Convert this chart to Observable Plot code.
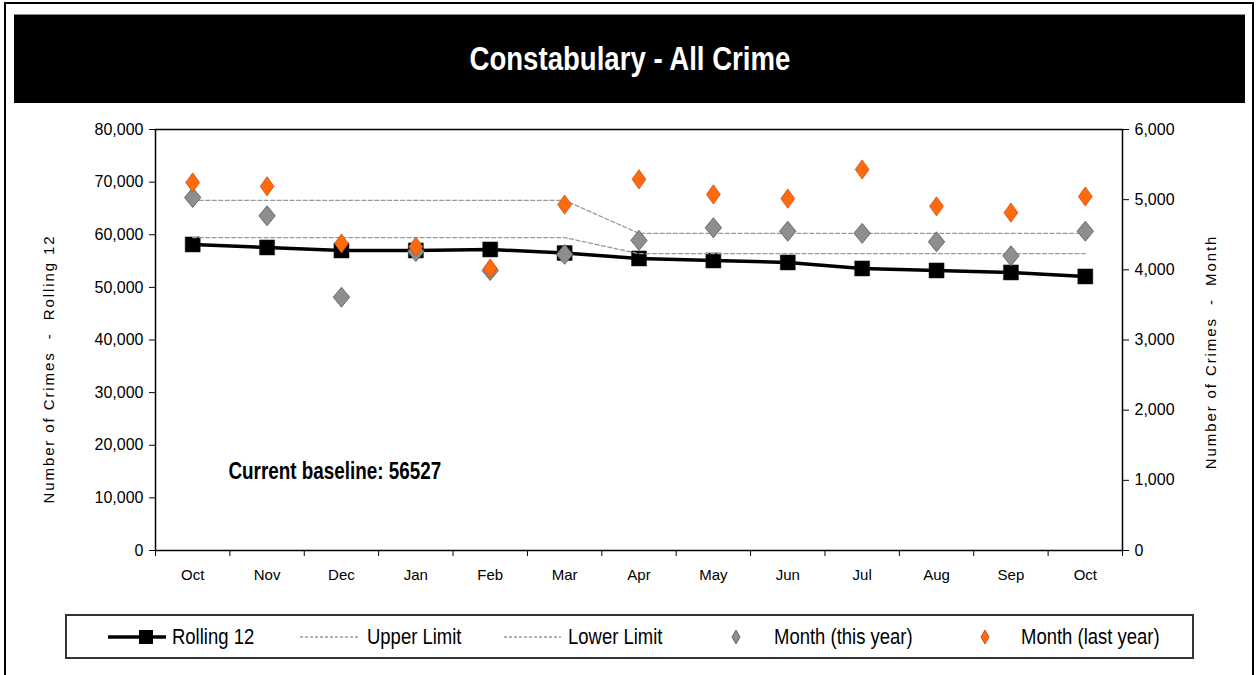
<!DOCTYPE html>
<html>
<head>
<meta charset="utf-8">
<script src="https://cdn.jsdelivr.net/npm/d3@7"></script>
<script src="https://cdn.jsdelivr.net/npm/@observablehq/plot@0.6"></script>
<style>
  html, body { margin: 0; padding: 0; background: #fff; }
  #page { position: relative; width: 1258px; height: 675px; overflow: hidden; background: #fff; font-family: "Liberation Sans", Arial, sans-serif; }
  #border { position: absolute; left: 4px; top: 2px; width: 1250px; height: 700px; border: 2px solid #000; box-sizing: border-box; }
  #title { position: absolute; left: 14px; top: 14px; width: 1231px; height: 89px; background: #000; color: #fff;
           display: flex; align-items: center; justify-content: center; border-top: 1px solid #888; box-sizing: border-box; }
  #title span { display: inline-block; font-family: "Liberation Sans", Arial, sans-serif; font-weight: bold; font-size: 33px; transform: scaleX(0.836); white-space: nowrap; }
  #chart { position: absolute; left: 0; top: 110px; }
  #legend { position: absolute; left: 65px; top: 614px; width: 1129px; height: 45px; border: 2px solid #333; box-sizing: border-box; }
  .li { position: absolute; top: 0; height: 41px; display: flex; align-items: center; font-family: "Liberation Sans", Arial, sans-serif; font-size: 22px; color: #000; white-space: nowrap; }
  .li svg { display: block; }
  .li span { display: inline-block; transform: scaleX(0.84); transform-origin: 0 50%; }
</style>
</head>
<body>
<div id="page">
  <div id="border"></div>
  <div id="title"><span>Constabulary - All Crime</span></div>
  <div id="chart"></div>
  <div id="legend"></div>
</div>
<script>
const months = ["Oct","Nov","Dec","Jan","Feb","Mar","Apr","May","Jun","Jul","Aug","Sep","Oct"];
const rolling12 = [58150, 57580, 57010, 57010, 57200, 56527, 55490, 55110, 54730, 53590, 53210, 52830, 52070];
const upperLimit = [4990, 4990, 4990, 4990, 4990, 4990, 4520, 4520, 4520, 4520, 4520, 4520, 4520];
const lowerLimit = [4460, 4460, 4460, 4460, 4460, 4460, 4230, 4230, 4230, 4230, 4230, 4230, 4230];
const monthThisYear = [5030, 4770, 3610, 4260, 3990, 4220, 4420, 4600, 4550, 4520, 4400, 4200, 4550];
const monthLastYear = [5245, 5190, 4375, 4330, 4020, 4930, 5290, 5075, 5015, 5430, 4905, 4815, 5045];
const leftTicks = [0, 10000, 20000, 30000, 40000, 50000, 60000, 70000, 80000];
const rightTicks = [0, 1000, 2000, 3000, 4000, 5000, 6000];
const baseline = 56527;
const leftLabel = "Number of Crimes \u00a0-\u00a0 Rolling 12";
const rightLabel = "Number of Crimes \u00a0-\u00a0 Month";

const leftMax = 80000, rightMax = 6000;
const ratio = leftMax / rightMax;
const fmt = d3.format(",");

const data = months.map((m, i) => ({
  i, month: m,
  rolling: rolling12[i],
  upper: upperLimit[i] * ratio,
  lower: lowerLimit[i] * ratio,
  thisYear: monthThisYear[i] * ratio,
  lastYear: monthLastYear[i] * ratio
}));

// diamond with a width/height ratio like the original markers
const diamond = (aspect) => ({
  draw(context, size) {
    const h = Math.sqrt(size / (2 * aspect));
    const w = h * aspect;
    context.moveTo(0, -h);
    context.lineTo(w, 0);
    context.lineTo(0, h);
    context.lineTo(-w, 0);
    context.closePath();
  }
});
const grayDiamond = diamond(0.82);
const orangeDiamond = diamond(0.72);

const chart = Plot.plot({
  width: 1258,
  height: 490,
  marginTop: 19,
  marginBottom: 50,
  marginLeft: 155,
  marginRight: 136,
  style: { fontFamily: '"Liberation Sans", Arial, sans-serif', fontSize: "15px", color: "#000", background: "transparent" },
  x: { type: "linear", domain: [-0.5, months.length - 0.5] },
  y: { domain: [0, leftMax] },
  marks: [
    Plot.frame({ stroke: "#000", strokeWidth: 1.5 }),
    Plot.axisY(leftTicks, { anchor: "left", tickSize: 6, tickPadding: 6, tickFormat: fmt, fontSize: 16, label: null }),
    Plot.axisY(rightTicks.map(v => v * ratio), { anchor: "right", tickSize: 6, tickPadding: 6, fontSize: 16,
      tickFormat: d => fmt(Math.round(d / ratio)), label: null }),
    Plot.axisX(d3.range(-0.5, months.length, 1), { anchor: "bottom", tickSize: 6, tickFormat: () => "", label: null }),
    Plot.axisX(d3.range(months.length), { anchor: "bottom", tickSize: 0, tickPadding: 19, fontSize: 15, tickFormat: i => months[i], label: null }),
    Plot.text([leftLabel], { frameAnchor: "left", textAnchor: "middle", rotate: -90, dx: -106, dy: 29, fontSize: 15, fill: "#000" }),
    Plot.text([rightLabel], { frameAnchor: "right", textAnchor: "middle", rotate: -90, dx: 89, dy: 12, fontSize: 15, fill: "#000" }),
    Plot.line(data, { x: "i", y: "rolling", stroke: "#000", strokeWidth: 3.5 }),
    Plot.dot(data, { x: "i", y: "rolling", symbol: "square", r: 8.5, fill: "#000", stroke: "#222", strokeWidth: 0.5 }),
    Plot.line(data, { x: "i", y: "upper", stroke: "#9a9a9a", strokeWidth: 1.3, strokeDasharray: "4,2.5" }),
    Plot.line(data, { x: "i", y: "lower", stroke: "#9a9a9a", strokeWidth: 1.3, strokeDasharray: "4,2.5" }),
    Plot.dot(data, { x: "i", y: "thisYear", symbol: grayDiamond, r: 7.2, fill: "#8e8e8e", stroke: "#6a6a6a", strokeWidth: 1 }),
    Plot.dot(data, { x: "i", y: "lastYear", symbol: orangeDiamond, r: 6.5, fill: "#ff6a0d", stroke: "#c4541a", strokeWidth: 0.8 }),
    Plot.text([`Current baseline: ${baseline}`], { frameAnchor: "bottom-left", dx: 73, dy: -72, textAnchor: "start",
      fontWeight: "bold", fontSize: 23, fill: "#000" })
  ]
});
// letter spacing for the axis titles, horizontal condensing for the annotation
d3.select(chart).selectAll("text")
  .filter(function() { return this.textContent.startsWith("Number of Crimes"); })
  .style("letter-spacing", "1.9px");
d3.select(chart).selectAll("text")
  .filter(function() { return this.textContent.startsWith("Current baseline"); })
  .attr("transform", function() { return (this.getAttribute("transform") || "") + " scale(0.82,1)"; });
document.getElementById("chart").appendChild(chart);

// Legend
const legend = document.getElementById("legend");
const items = [
  { left: 40, label: "Rolling 12", draw: s => { s.append("line").attr("x1", 1).attr("x2", 59).attr("y1", 10).attr("y2", 10).attr("stroke", "#000").attr("stroke-width", 3.5);
      s.append("rect").attr("x", 32).attr("y", 3).attr("width", 14).attr("height", 14).attr("fill", "#000"); }, w: 65 },
  { left: 232, label: "Upper Limit", draw: s => s.append("line").attr("x1", 1).attr("x2", 61).attr("y1", 10).attr("y2", 10).attr("stroke", "#9a9a9a").attr("stroke-width", 1.3).attr("stroke-dasharray", "3,2"), w: 68 },
  { left: 436, label: "Lower Limit", draw: s => s.append("line").attr("x1", 1).attr("x2", 58).attr("y1", 10).attr("y2", 10).attr("stroke", "#9a9a9a").attr("stroke-width", 1.3).attr("stroke-dasharray", "3,2"), w: 65 },
  { left: 663, label: "Month (this year)", draw: s => s.append("path").attr("d", "M6,3L10,10L6,17L2,10Z").attr("fill", "#8e8e8e").attr("stroke", "#6a6a6a"), w: 44 },
  { left: 912, label: "Month (last year)", draw: s => s.append("path").attr("d", "M6,3L10,10L6,17L2,10Z").attr("fill", "#ff6a0d").attr("stroke", "#c4541a"), w: 42 }
];
for (const it of items) {
  const div = document.createElement("div");
  div.className = "li";
  div.style.left = it.left + "px";
  const s = d3.create("svg").attr("width", it.w).attr("height", 20);
  it.draw(s);
  div.appendChild(s.node());
  const span = document.createElement("span");
  span.textContent = it.label;
  div.appendChild(span);
  legend.appendChild(div);
}
</script>
</body>
</html>
